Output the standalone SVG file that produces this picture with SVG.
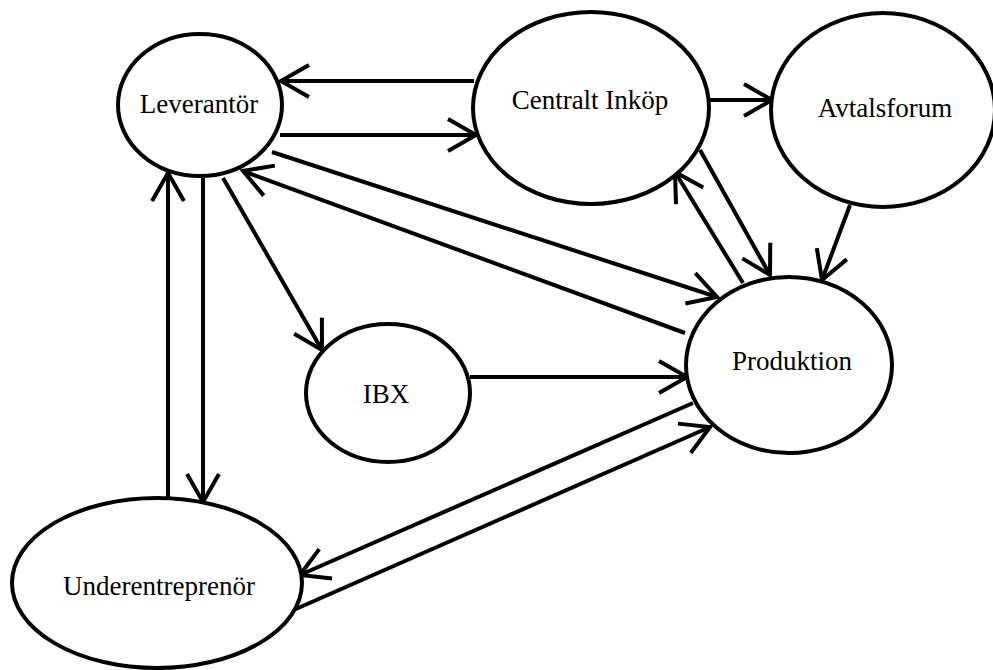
<svg xmlns="http://www.w3.org/2000/svg" width="993" height="670" viewBox="0 0 993 670">
  <style>
    .node ellipse { fill: #ffffff; stroke: #000000; stroke-width: 4; }
    .node text { font-family: "Liberation Serif", "Times New Roman", serif; font-size: 27px; fill: #000000; text-anchor: middle; }
    #connectors line { stroke: #000000; stroke-width: 4; marker-end: url(#arrow); }
  </style>
  <defs>
    <marker id="arrow" markerUnits="userSpaceOnUse" viewBox="-32 -20 36 40" refX="0" refY="0" markerWidth="36" markerHeight="40" orient="auto" overflow="visible">
      <path d="M -28,-16 L 0,0 L -28,16" fill="none" stroke="#000000" stroke-width="4" stroke-linecap="butt"/>
    </marker>
  </defs>
  <rect width="993" height="670" fill="#ffffff"/>

  <g id="connectors">
    <line x1="474" y1="81" x2="281" y2="81"/>
    <line x1="280" y1="135" x2="476" y2="135"/>
    <line x1="709" y1="100" x2="772" y2="100"/>
    <line x1="700" y1="150" x2="770" y2="275"/>
    <line x1="743" y1="283" x2="675" y2="172"/>
    <line x1="850" y1="205" x2="822" y2="280"/>
    <line x1="272" y1="152" x2="717" y2="297"/>
    <line x1="685" y1="333" x2="243" y2="171"/>
    <line x1="223" y1="178" x2="322" y2="350"/>
    <line x1="168" y1="498" x2="168" y2="173"/>
    <line x1="203" y1="178" x2="203" y2="502"/>
    <line x1="470" y1="377" x2="687" y2="377"/>
    <line x1="693" y1="403" x2="300" y2="575"/>
    <line x1="289" y1="612" x2="710" y2="427"/>
  </g>

  <g id="leverantor" class="node">
    <ellipse cx="200" cy="105" rx="82" ry="71"/>
    <text x="199" y="113">Leverantör</text>
  </g>
  <g id="centralt-inkop" class="node">
    <ellipse cx="591" cy="108" rx="118" ry="96"/>
    <text x="590" y="109">Centralt Inköp</text>
  </g>
  <g id="avtalsforum" class="node">
    <ellipse cx="883" cy="110" rx="112" ry="97"/>
    <text x="885" y="117">Avtalsforum</text>
  </g>
  <g id="produktion" class="node">
    <ellipse cx="789" cy="365" rx="103" ry="88"/>
    <text x="792" y="370">Produktion</text>
  </g>
  <g id="ibx" class="node">
    <ellipse cx="388" cy="393" rx="82" ry="69"/>
    <text x="386" y="403">IBX</text>
  </g>
  <g id="underentreprenor" class="node">
    <ellipse cx="157" cy="583" rx="145" ry="85"/>
    <text x="159" y="595">Underentreprenör</text>
  </g>
</svg>
